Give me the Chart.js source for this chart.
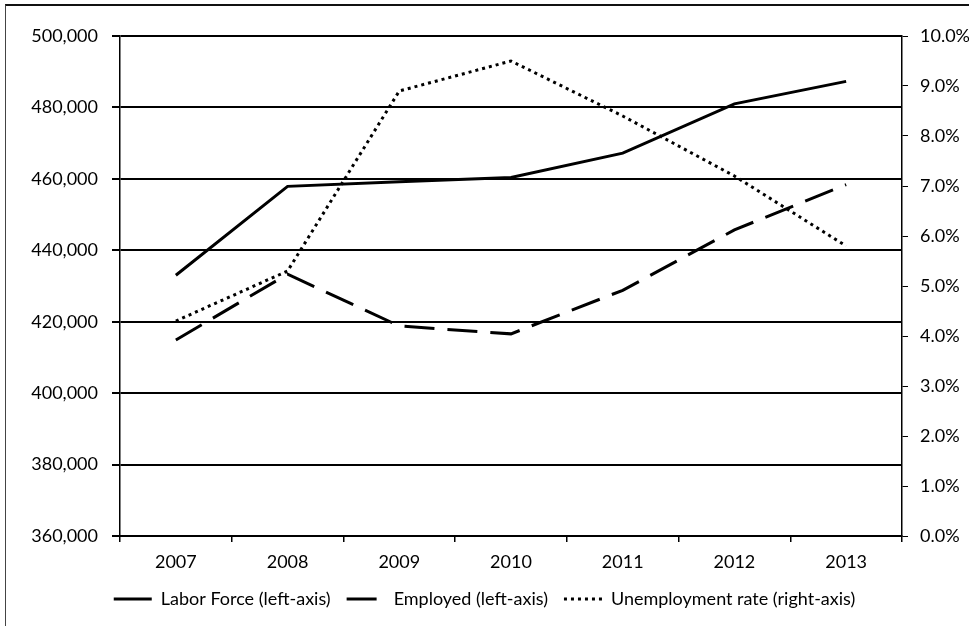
<!DOCTYPE html>
<html>
<head>
<meta charset="utf-8">
<script src="https://cdn.jsdelivr.net/npm/chart.js@4.4.0/dist/chart.umd.min.js"></script>
<style>
  html, body { margin: 0; padding: 0; background: #fff; }
  #wrap { position: relative; width: 969px; height: 626px; }
  #frame { position: absolute; left: 5px; top: 4px; right: -2px; bottom: -2px;
           border-top: 2px solid #111; border-left: 1px solid #444; }
  canvas { position: absolute; left: 0; top: 0; }
</style>
</head>
<body>
<div id="wrap">
  <div id="frame"></div>
  <canvas id="chart" width="969" height="626"></canvas>
</div>
<script>
const years = ['2007', '2008', '2009', '2010', '2011', '2012', '2013'];
const laborForce = [433000, 457900, 459200, 460400, 467200, 481000, 487300];
const employed = [414900, 433300, 418800, 416600, 428800, 445700, 458400];
const unemploymentRate = [4.3, 5.3, 8.9, 9.5, 8.4, 7.2, 5.8];

const font = { family: 'Lato, "Open Sans", sans-serif', size: 18 };

// legend entries drawn as short line samples carrying each dataset's dash
const legendLabels = (chart) => chart.data.datasets.map((ds, i) => ({
    text: ds.label,
    datasetIndex: i,
    hidden: !chart.isDatasetVisible(i),
    fillStyle: ds.borderColor,
    strokeStyle: ds.borderColor,
    fontColor: '#000',
    lineWidth: ds.borderWidth,
    lineDash: ds.borderDash || [],
    lineCap: 'butt',
    pointStyle: 'line'
}));

const ctx = document.getElementById('chart').getContext('2d');
new Chart(ctx, {
    type: 'line',
    data: {
        labels: years,
        datasets: [{
            label: 'Labor Force (left-axis)',
            data: laborForce,
            yAxisID: 'y',
            borderColor: '#000',
            borderWidth: 3,
            pointRadius: 0,
            tension: 0
        }, {
            label: 'Employed (left-axis)',
            data: employed,
            yAxisID: 'y',
            borderColor: '#000',
            borderWidth: 3,
            borderDash: [30, 13],
            pointRadius: 0,
            tension: 0
        }, {
            label: 'Unemployment rate (right-axis)',
            data: unemploymentRate,
            yAxisID: 'y1',
            borderColor: '#000',
            borderWidth: 3,
            borderDash: [3, 4],
            pointRadius: 0,
            tension: 0
        }]
    },
    options: {
        responsive: false,
        animation: false,
        layout: { padding: { top: 36, bottom: 8, left: 0, right: 0 } },
        plugins: {
            tooltip: { enabled: false },
            legend: {
                position: 'bottom',
                labels: {
                    color: '#000',
                    font: font,
                    usePointStyle: true,
                    pointStyle: 'line',
                    pointStyleWidth: 38,
                    boxWidth: 38,
                    boxHeight: 3,
                    padding: 16,
                    generateLabels: legendLabels
                }
            }
        },
        scales: {
            x: {
                offset: true,
                afterFit: (scale) => { scale.height = 38; },
                grid: { display: true, drawOnChartArea: false, offset: true, color: '#000', tickLength: 6, lineWidth: 1.5 },
                border: { color: '#000', width: 2 },
                ticks: { color: '#000', font: font, padding: 9 }
            },
            y: {
                position: 'left',
                min: 360000,
                max: 500000,
                afterFit: (scale) => { scale.width = 120; },
                grid: { color: '#000', lineWidth: 2, tickLength: 8 },
                border: { color: '#000', width: 1.5 },
                ticks: {
                    stepSize: 20000,
                    color: '#000',
                    font: font,
                    padding: 14,
                    callback: (v) => v.toLocaleString('en-US')
                }
            },
            y1: {
                position: 'right',
                min: 0,
                max: 10,
                afterFit: (scale) => { scale.width = 67; },
                grid: { drawOnChartArea: false, color: '#000', tickLength: 6 },
                border: { color: '#000', width: 1.5 },
                ticks: {
                    stepSize: 1,
                    color: '#000',
                    font: font,
                    padding: 12,
                    callback: (v) => v.toFixed(1) + '%'
                }
            }
        }
    }
});
</script>
</body>
</html>
